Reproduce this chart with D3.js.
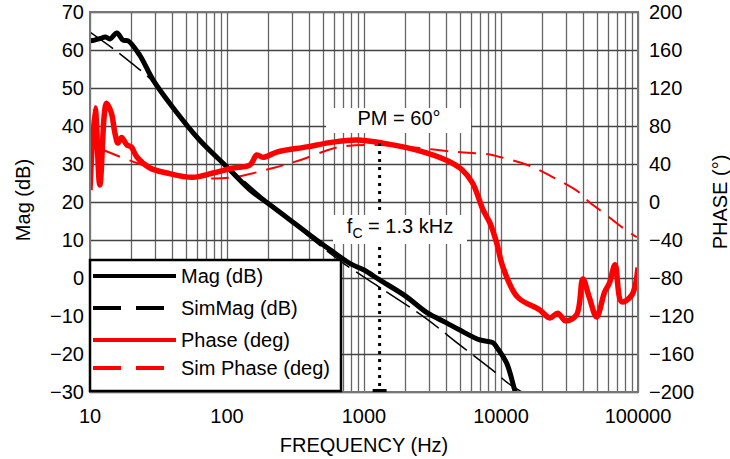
<!DOCTYPE html>
<html>
<head>
<meta charset="utf-8">
<script src="https://cdn.jsdelivr.net/npm/d3@7"></script>
<style>
  body { margin: 0; background: #fff; }
  svg { font-family: "Liberation Sans", Arial, Helvetica, sans-serif; }
</style>
</head>
<body>
<div id="chart"></div>
<script>

// measured magnitude (dB)
var magFreq = [10, 10.8, 11.8, 13, 14, 15.7, 17.4, 19, 23, 29, 40, 63, 100, 147, 200, 300, 400, 567, 800, 1000, 1300, 2000, 2900, 4000, 5000, 7000, 8700, 9300, 11000, 12600, 13200];
var magDb   = [62.4, 62.6, 63, 63.4, 62.9, 64.5, 62.6, 62.4, 58.7, 52, 45, 36.3, 29.2, 23.2, 19.6, 14.8, 11.4, 7.4, 3.7, 2.1, -0.5, -4.7, -9.2, -11.8, -13.7, -16.3, -17, -18.2, -22.4, -29.5, -31.5];

// simulated magnitude (dB)
var simMagFreq = [10, 15.2, 20, 29, 60, 100, 200, 400, 700, 1470, 2800, 5000, 9000, 11000, 15000];
var simMagDb   = [64.7, 60, 56.6, 51.6, 36.8, 29.5, 20, 10.8, 4, -3.7, -10.5, -17.6, -24.7, -27.4, -30.5];

// measured phase (deg)
var phFreq = [10, 10.9, 11.8, 13.2, 14.3, 15.2, 16, 17, 18.6, 20, 22, 27.4, 36.5, 56, 79, 111, 147, 165, 183, 231, 383, 592, 888, 1370, 2430, 4000, 5200, 6200, 7400, 8300, 9300, 10300, 13200, 19200, 22700, 26000, 29500, 35500, 39600, 44000, 49900, 57000, 62000, 68000, 76000, 90000, 100000];
var phDeg  = [12.6, 99, 18, 104, 94, 72.6, 62, 68, 60, 58, 47.4, 35.8, 30.5, 26, 30.5, 35.8, 39, 49.5, 47, 52.6, 58, 63, 65.3, 62, 54.7, 44, 34, 20, -8.4, -22, -43, -68, -100, -113.7, -122, -117, -125, -119, -81, -100, -121, -95, -85, -66, -105, -98, -69];

// simulated phase (deg)
var simPhFreq = [12.5, 22, 40, 71, 111, 217, 340, 667, 1300, 2100, 4800, 8300, 9800, 15600, 24000, 37700, 44000, 55000, 77000, 98000];
var simPhDeg  = [54.7, 41, 30, 25, 26, 35.8, 44, 58, 60, 58, 52.6, 50, 47.4, 39, 26, 9.5, 0, -10.5, -27, -37];

var xTicks = [10, 100, 1000, 10000, 100000];
var magTicks = [70, 60, 50, 40, 30, 20, 10, 0, -10, -20, -30];
var phTicks = [200, 160, 120, 80, 40, 0, -40, -80, -120, -160, -200];

var legendItems = ["Mag (dB)", "SimMag (dB)", "Phase (deg)", "Sim Phase (deg)"];

var width = 730;
var height = 459;
var pLeft = 90, pRight = 638, pTop = 12, pBottom = 392;

var svg = d3.select("#chart").append("svg")
    .attr("width", width)
    .attr("height", height);

var x = d3.scaleLog().domain([10, 100000]).range([pLeft, pRight]);
var yMag = d3.scaleLinear().domain([-30, 70]).range([pBottom, pTop]);
var yPh = d3.scaleLinear().domain([-200, 200]).range([pBottom, pTop]);

function fmt(v) { return v < 0 ? "\u2212" + Math.abs(v) : "" + v; }

// grid
var grid = svg.append("g");
var minor = [];
[10, 100, 1000, 10000].forEach(function(d) {
  for (var k = 1; k < 10; k++) minor.push(k * d);
});
minor.push(100000);
grid.selectAll(".vgrid").data(minor).enter().append("line")
  .attr("x1", function(d){ return Math.round(x(d)) + 0.5; })
  .attr("x2", function(d){ return Math.round(x(d)) + 0.5; })
  .attr("y1", pTop).attr("y2", pBottom)
  .attr("stroke", "#666").attr("stroke-width", 1.3);
grid.selectAll(".hgrid").data(magTicks).enter().append("line")
  .attr("x1", pLeft).attr("x2", pRight)
  .attr("y1", function(d){ return Math.round(yMag(d)) + 0.5; })
  .attr("y2", function(d){ return Math.round(yMag(d)) + 0.5; })
  .attr("stroke", "#444").attr("stroke-width", 1.3);

svg.append("clipPath").attr("id", "plotclip").append("rect")
  .attr("x", pLeft).attr("y", pTop).attr("width", pRight - pLeft).attr("height", pBottom - pTop);

var plot = svg.append("g").attr("clip-path", "url(#plotclip)");

function mkLine(ys) {
  return d3.line()
    .x(function(d){ return x(d[0]); })
    .y(function(d){ return ys(d[1]); })
    .curve(d3.curveCatmullRom.alpha(0.5));
}

plot.append("path")
  .datum(d3.zip(simMagFreq, simMagDb))
  .attr("d", mkLine(yMag))
  .attr("fill", "none").attr("stroke", "#000").attr("stroke-width", 1.5)
  .attr("stroke-dasharray", "28,8");

plot.append("path")
  .datum(d3.zip(simPhFreq, simPhDeg))
  .attr("d", mkLine(yPh))
  .attr("fill", "none").attr("stroke", "#f00").attr("stroke-width", 2)
  .attr("stroke-dasharray", "18,10");

plot.append("path")
  .datum(d3.zip(magFreq, magDb))
  .attr("d", mkLine(yMag))
  .attr("fill", "none").attr("stroke", "#000").attr("stroke-width", 5)
  .attr("stroke-linejoin", "round");

plot.append("path")
  .datum(d3.zip(phFreq, phDeg))
  .attr("d", mkLine(yPh))
  .attr("fill", "none").attr("stroke", "#f00").attr("stroke-width", 5.5)
  .attr("stroke-linejoin", "round");

// frame
svg.append("rect")
  .attr("x", pLeft).attr("y", pTop).attr("width", pRight - pLeft).attr("height", pBottom - pTop)
  .attr("fill", "none").attr("stroke", "#777").attr("stroke-width", 2);

// crossover marker
var fc = 1300;
svg.append("line")
  .attr("x1", x(fc)).attr("x2", x(fc))
  .attr("y1", yPh(62)).attr("y2", pBottom)
  .attr("stroke", "#000").attr("stroke-width", 3)
  .attr("stroke-dasharray", "3,5");
svg.append("line")
  .attr("x1", x(fc) - 7).attr("x2", x(fc) + 7)
  .attr("y1", pBottom - 1.5).attr("y2", pBottom - 1.5)
  .attr("stroke", "#000").attr("stroke-width", 3);

// annotations
svg.append("rect").attr("x", 326).attr("y", 108).attr("width", 145).attr("height", 25).attr("fill", "#fff");
svg.append("text").attr("x", 399).attr("y", 125).attr("text-anchor", "middle")
  .attr("font-size", 20).text("PM = 60\u00b0");

svg.append("rect").attr("x", 333).attr("y", 215).attr("width", 134).attr("height", 29).attr("fill", "#fff");
var fcText = svg.append("text").attr("x", 400).attr("y", 233).attr("text-anchor", "middle")
  .attr("font-size", 20);
fcText.append("tspan").text("f");
fcText.append("tspan").attr("font-size", 14).attr("dy", 5).text("C");
fcText.append("tspan").attr("dy", -5).text(" = 1.3 kHz");

// legend
var lg = svg.append("g");
lg.append("rect").attr("x", 90).attr("y", 260).attr("width", 251).attr("height", 131)
  .attr("fill", "#fff").attr("stroke", "#000").attr("stroke-width", 2.5);
var rowY = [276, 308, 340, 368];
var rowColor = ["#000", "#000", "#f00", "#f00"];
var rowDash = [null, "28,15", null, "28,15"];
legendItems.forEach(function(name, i) {
  lg.append("line")
    .attr("x1", 93).attr("x2", i % 2 ? 164 : 176)
    .attr("y1", rowY[i]).attr("y2", rowY[i])
    .attr("stroke", rowColor[i]).attr("stroke-width", 4)
    .attr("stroke-dasharray", rowDash[i]);
  lg.append("text").attr("x", 181).attr("y", rowY[i] + 7)
    .attr("font-size", 20).text(name);
});

// axes labels
svg.append("g").selectAll("text").data(magTicks).enter().append("text")
  .attr("x", 84).attr("y", function(d){ return yMag(d) + 7; })
  .attr("text-anchor", "end").attr("font-size", 20)
  .text(fmt);

svg.append("g").selectAll("text").data(phTicks).enter().append("text")
  .attr("x", 649).attr("y", function(d){ return yPh(d) + 7; })
  .attr("text-anchor", "start").attr("font-size", 20)
  .text(fmt);

svg.append("g").selectAll("text").data(xTicks).enter().append("text")
  .attr("x", function(d){ return x(d); }).attr("y", 423)
  .attr("text-anchor", "middle").attr("font-size", 20)
  .text(function(d){ return "" + d; });

svg.append("text").attr("x", 364).attr("y", 452).attr("text-anchor", "middle")
  .attr("font-size", 20).text("FREQUENCY (Hz)");

svg.append("text").attr("transform", "translate(30,200) rotate(-90)")
  .attr("text-anchor", "middle").attr("font-size", 20).text("Mag (dB)");

svg.append("text").attr("transform", "translate(727,202) rotate(-90)")
  .attr("text-anchor", "middle").attr("font-size", 20).text("PHASE (\u00b0)");

</script>
</body>
</html>
